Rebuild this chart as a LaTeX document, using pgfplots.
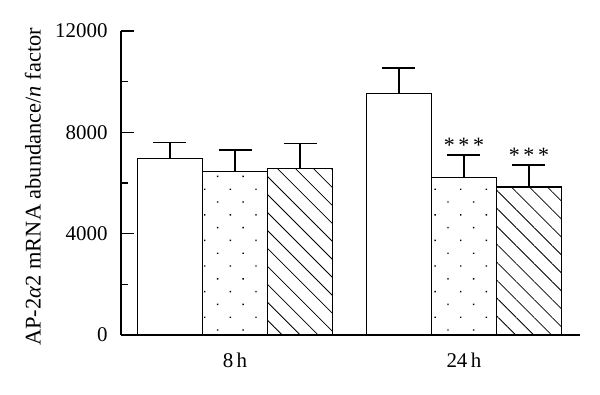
\documentclass[border=0pt]{standalone}
\usepackage{fontspec}
\setmainfont{Liberation Serif}
\usepackage{pgfplots}
\pgfplotsset{compat=1.18}
\usetikzlibrary{patterns.meta}
\begin{document}
\begin{tikzpicture}[x=1bp,y=1bp]
\path[use as bounding box] (-121,-59) rectangle (479,335);
\begin{axis}[
  at={(0,0)}, anchor=south west,
  scale only axis, width=459bp, height=304bp,
  xmin=-0.498, xmax=1.507, ymin=0, ymax=12000,
  axis x line=bottom, axis y line=left,
  axis line style={-, line width=1.3bp},
  ytick={0,4000,8000,12000}, minor ytick={2000,6000,10000},
  tick align=inside, major tick length=13bp, minor tick length=7bp,
  tick style={line width=1.3bp, black},
  xtick={0,1}, xticklabels={8\,h,24\,h},
  x tick style={draw=none},
  scaled y ticks=false,
  /pgf/number format/1000 sep={},
  /pgf/number format/assume math mode=true,
  tick label style={font=\fontsize{21}{25}\selectfont},
  yticklabel style={xshift=-10bp},
  xticklabel style={yshift=-14bp},
  label style={font=\fontsize{22.5}{26}\selectfont},
  ylabel={AP-2\textit{α}2 mRNA abundance/\textit{n} factor},
  every axis y label/.append style={at={(axis description cs:-0.192,0.487)}, anchor=center},
  clip=false,
  error bars/y dir=plus, error bars/y explicit,
  error bars/error bar style={line width=1.2bp, black},
  error bars/error mark options={rotate=90, mark size=16.5bp, line width=1.2bp, black},
]
\addplot[ybar, bar width=0.284, bar shift=0pt, fill=white, draw=black, line width=1.2bp]
  coordinates {(-0.284,6960) +- (0,630) (0.716,9540) +- (0,1000)};
\addplot[ybar, bar width=0.284, bar shift=0pt, draw=black, line width=1.2bp,
  pattern={Dots[distance=18.1bp, angle=45, radius=1bp]}, pattern color=black]
  coordinates {(0,6460) +- (0,840) (1,6210) +- (0,895)};
\addplot[ybar, bar width=0.284, bar shift=0pt, draw=black, line width=1.2bp,
  pattern={Lines[distance=12.7bp, angle=-45, line width=0.8bp]}, pattern color=black]
  coordinates {(0.284,6580) +- (0,970) (1.284,5840) +- (0,870)};
\node[anchor=center, font=\fontsize{22}{26}\selectfont, inner sep=0pt] at (axis cs:1,7500) {*\,*\,*};
\node[anchor=center, font=\fontsize{22}{26}\selectfont, inner sep=0pt] at (axis cs:1.284,7100) {*\,*\,*};
\end{axis}
\end{tikzpicture}
\end{document}
